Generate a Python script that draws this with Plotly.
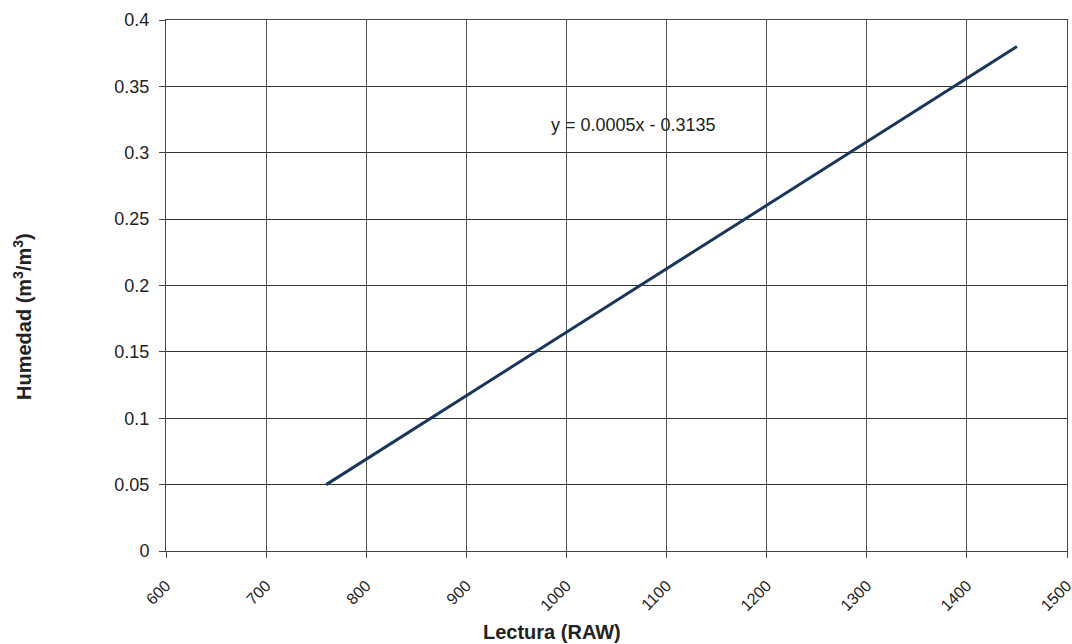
import plotly.graph_objects as go

lectura = [760, 1450]
humedad = [0.05, 0.38]
eq_text = "y = 0.0005x - 0.3135"
x_title = "<b>Lectura (RAW)</b>"
y_title = "<b>Humedad (m<sup>3</sup>/m<sup>3</sup>)</b>"
x_ticks = [600, 700, 800, 900, 1000, 1100, 1200, 1300, 1400, 1500]

# plot area in page pixels
PL, PR, PT, PB = 166, 1067, 20, 551
W, H = 1072, 644
def px_x(p):
    return (p - PL) / (PR - PL)
def px_y(p):
    return (PB - p) / (PB - PT)

fig = go.Figure()
fig.add_trace(go.Scatter(x=lectura, y=humedad, mode="lines",
                         line=dict(color="#1b365d", width=3), showlegend=False))
fig.add_annotation(x=1067, y=0.321, text=eq_text, showarrow=False,
                   xanchor="center", yanchor="middle",
                   font=dict(size=18, color="#222"))
fig.add_annotation(xref="paper", yref="paper", x=px_x(552), y=px_y(632),
                   text=x_title, showarrow=False, xanchor="center", yanchor="middle",
                   font=dict(size=20, color="#222"))
fig.add_annotation(xref="paper", yref="paper", x=px_x(22), y=px_y(317),
                   text=y_title, showarrow=False, textangle=-90,
                   xanchor="center", yanchor="middle",
                   font=dict(size=20, color="#222"))

fig.update_layout(
    width=W, height=H,
    margin=dict(l=PL, r=W - PR, t=PT, b=H - PB),
    paper_bgcolor="white", plot_bgcolor="white",
    font=dict(family="Liberation Sans, Arial", size=17, color="#222"),
    xaxis=dict(range=[600, 1500.0001], tickmode="array", tickvals=x_ticks,
               ticktext=[str(v) for v in x_ticks], tickangle=-45, automargin=False,
               ticklabeloverflow="allow",
               tickfont=dict(size=16, color="#222"), ticklabelstandoff=12,
               showgrid=True, gridcolor="#555", gridwidth=1,
               showline=True, linecolor="#444", linewidth=1, mirror=True,
               ticks="outside", ticklen=6, tickcolor="#444", zeroline=False),
    yaxis=dict(range=[0, 0.4], dtick=0.05, tick0=0, automargin=False,
               tickfont=dict(size=18, color="#222"), ticklabelstandoff=6,
               showgrid=True, gridcolor="#333", gridwidth=1,
               showline=True, linecolor="#444", linewidth=1, mirror=True,
               ticks="outside", ticklen=6, tickcolor="#444", zeroline=False),
)
fig.write_html("out.html", config={"displayModeBar": False},
               post_script="document.body.style.margin='0';document.body.style.overflow='hidden';")
